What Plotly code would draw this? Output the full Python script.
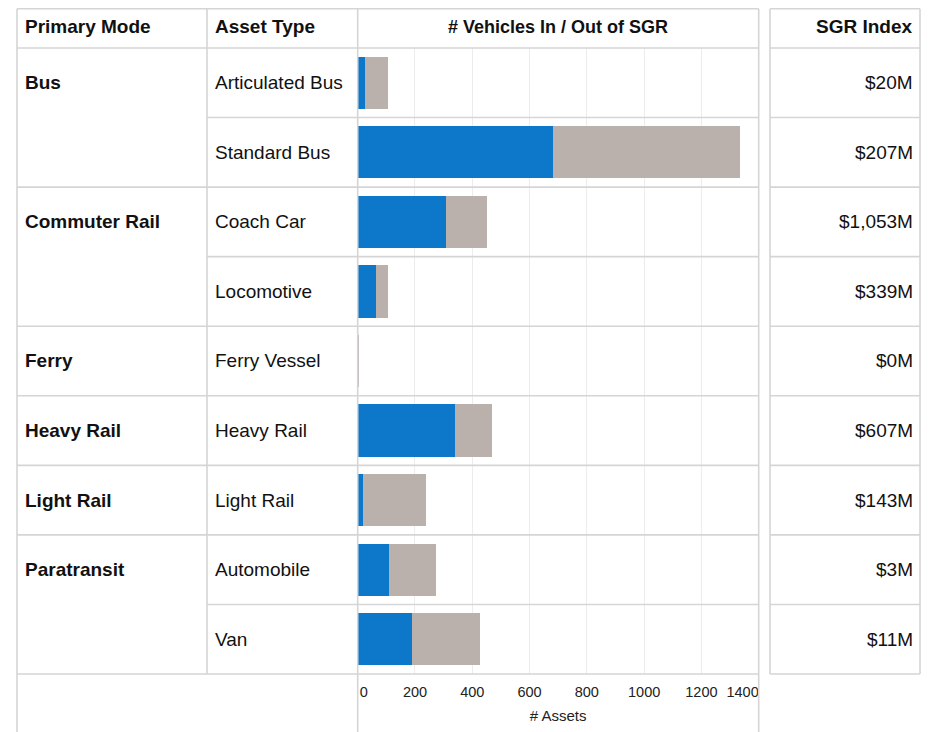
import plotly.graph_objects as go

# ---- data ----
primary_mode = ["Bus", "Bus", "Commuter Rail", "Commuter Rail", "Ferry",
                "Heavy Rail", "Light Rail", "Paratransit", "Paratransit"]
asset_type = ["Articulated Bus", "Standard Bus", "Coach Car", "Locomotive",
              "Ferry Vessel", "Heavy Rail", "Light Rail", "Automobile", "Van"]
in_sgr = [25, 682, 309, 63, 0, 338, 19, 108, 190]
out_sgr = [80, 651, 141, 43, 2, 131, 221, 167, 238]
sgr_index = ["$20M", "$207M", "$1,053M", "$339M", "$0M", "$607M", "$143M", "$3M", "$11M"]
tick_vals = [0, 200, 400, 600, 800, 1000, 1200, 1400]
tick_text = ["\u00a0\u00a0\u00a00", "200", "400", "600", "800", "1000", "1200",
             "1400" + "\u00a0" * 8]
headers = ["Primary Mode", "Asset Type", "# Vehicles In / Out of SGR", "SGR Index"]

# ---- layout constants (pixels, page coordinates; page body has 8px margin) ----
W, H = 930, 732
OX, OY = 8, 8
FONT = "Liberation Sans, Arial, sans-serif"
LINE = "#d5d5d5"
px = lambda v: (v - OX) / W
py = lambda v: 1 - (v - OY) / H

X_LEFT, X_COL2, X_BAR0, X_BAR1, X_SG0, X_SG1 = 17, 207, 357.7, 758.7, 770, 920
Y_TOP, Y_HEAD, Y_BOT = 8.8, 48, 674

fig = go.Figure()
fig.add_trace(go.Bar(y=asset_type, x=in_sgr, orientation="h", name="In SGR",
                     marker=dict(color="#0d77ca", line=dict(width=0)), width=0.75))
fig.add_trace(go.Bar(y=asset_type, x=out_sgr, orientation="h", name="Out of SGR",
                     marker=dict(color="#bab0ac", line=dict(width=0)), width=0.75))

shapes = []
def line(x0, y0, x1, y1, xref="paper", yref="paper"):
    shapes.append(dict(type="line", x0=x0, y0=y0, x1=x1, y1=y1, xref=xref, yref=yref,
                       line=dict(color=LINE, width=1.6), layer="above"))

# frame lines
for (a, b) in [(X_LEFT, X_BAR1), (X_SG0, X_SG1)]:
    line(px(a), py(Y_TOP), px(b), py(Y_TOP))
    line(px(a), py(Y_HEAD), px(b), py(Y_HEAD))
    line(px(a), py(Y_BOT), px(b), py(Y_BOT))
line(px(X_LEFT), py(Y_TOP), px(X_LEFT), 0)
line(px(X_COL2), py(Y_TOP), px(X_COL2), py(Y_BOT))
line(px(X_BAR0), py(Y_TOP), px(X_BAR0), 0)
line(px(X_BAR1), py(Y_TOP), px(X_BAR1), 0)
line(px(X_SG0), py(Y_TOP), px(X_SG0), py(Y_BOT))
line(px(X_SG1), py(Y_TOP), px(X_SG1), py(Y_BOT))

# row separators
n = len(asset_type)
for i in range(n - 1):
    yb = i + 0.5
    start = X_LEFT if primary_mode[i] != primary_mode[i + 1] else X_COL2
    line(px(start), yb, px(X_BAR1), yb, yref="y")
    line(px(X_SG0), yb, px(X_SG1), yb, yref="y")

ann = []
hy = py(27)
ann.append(dict(text="<b>%s</b>" % headers[0], x=px(22.5), y=hy, xanchor="left"))
ann.append(dict(text="<b>%s</b>" % headers[1], x=px(212.5), y=hy, xanchor="left"))
ann.append(dict(text="<b>%s</b>" % headers[2], x=px((X_BAR0 + X_BAR1) / 2), y=hy,
                xanchor="center", font=dict(size=18)))
ann.append(dict(text="<b>%s</b>" % headers[3], x=px(915), y=hy, xanchor="right"))
for a in ann:
    a.update(xref="paper", yref="paper", yanchor="middle", showarrow=False)

seen = set()
for i, (pm, at, sv) in enumerate(zip(primary_mode, asset_type, sgr_index)):
    if pm not in seen:
        seen.add(pm)
        ann.append(dict(text="<b>%s</b>" % pm, x=px(22.5), y=i, xref="paper", yref="y",
                        xanchor="left", yanchor="middle", showarrow=False))
    ann.append(dict(text=at, x=px(212.5), y=i, xref="paper", yref="y",
                    xanchor="left", yanchor="middle", showarrow=False))
    ann.append(dict(text=sv, x=px(915), y=i, xref="paper", yref="y",
                    xanchor="right", yanchor="middle", showarrow=False))

fig.update_layout(
    width=W, height=H, margin=dict(l=0, r=0, t=0, b=0, autoexpand=False),
    paper_bgcolor="white", plot_bgcolor="white",
    barmode="stack", showlegend=False,
    font=dict(family=FONT, size=19, color="#111111"),
    shapes=shapes, annotations=ann,
    xaxis=dict(domain=[px(X_BAR0), px(X_BAR1)], range=[0, 1400],
               tickvals=tick_vals, ticktext=tick_text, automargin=False,
               showgrid=True, gridcolor="#ececec", gridwidth=1, zeroline=False,
               showline=False, ticks="", ticklabelstandoff=7,
               tickfont=dict(size=14.5, color="#222222"),
               title=dict(text="# Assets", font=dict(size=15, color="#222222"), standoff=11),
               fixedrange=True),
    yaxis=dict(domain=[py(Y_BOT), py(Y_HEAD)], categoryorder="array",
               categoryarray=asset_type, range=[n - 0.5, -0.5], automargin=False,
               showticklabels=False, showgrid=False, zeroline=False, ticks="",
               fixedrange=True),
)

fig.write_html("out.html")
